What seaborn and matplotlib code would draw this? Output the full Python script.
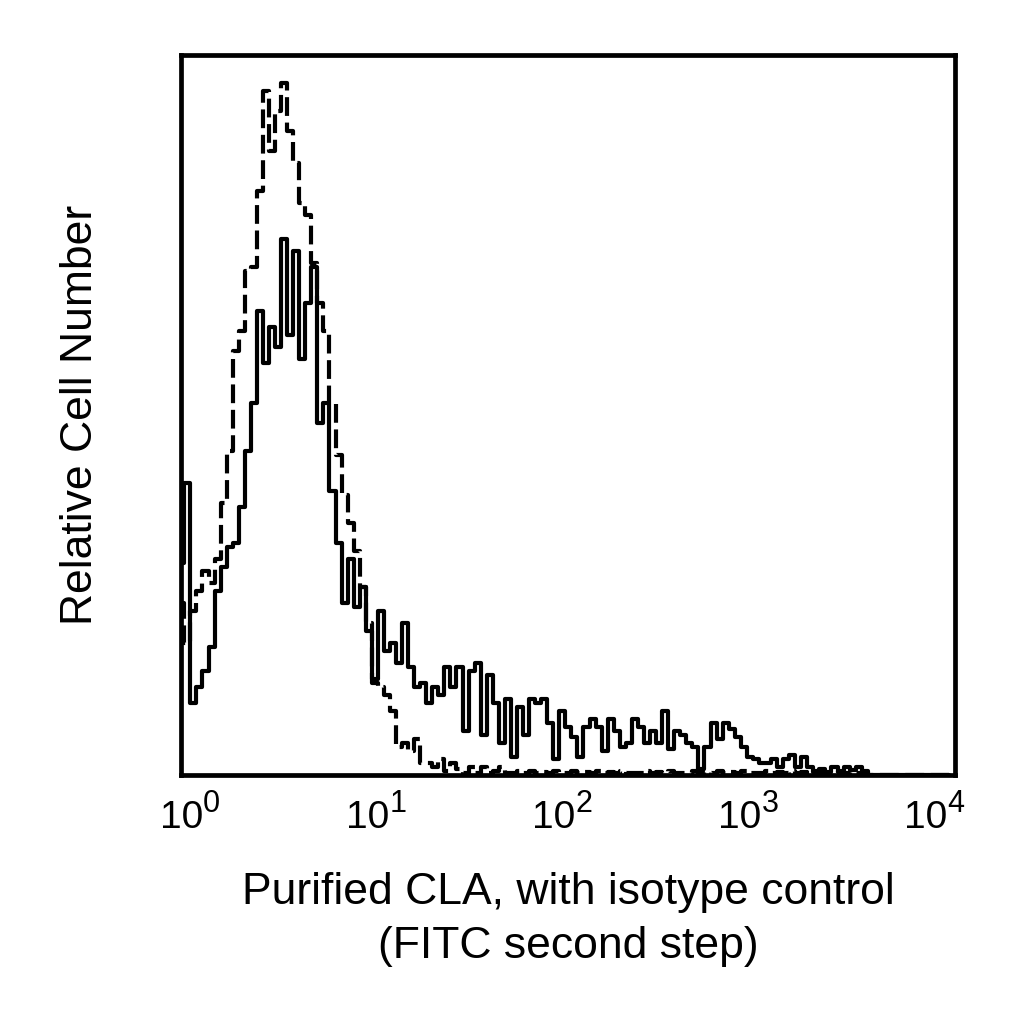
import numpy as np
import pandas as pd
import matplotlib
matplotlib.use("Agg")
import matplotlib.pyplot as plt
import matplotlib.transforms as mtransforms
import seaborn as sns

# ---- data: 128-channel histogram, full scale = 4.16 decades starting at 10^0 ----
n_channels = 128
full_scale_decades = 4.16

cla_counts = [
    53, 73, 18, 22, 26, 32, 46, 52, 57, 58,
    67, 81, 93, 116, 103, 112, 107, 134, 110, 131,
    104, 118, 127, 88, 93, 71, 58, 43, 54, 42,
    47, 36, 24, 41, 31, 33, 28, 38, 27, 22,
    23, 18, 22, 20, 27, 22, 27, 11, 26, 28,
    10, 25, 18, 8, 19, 4.5, 17, 10, 19, 18,
    19, 13, 4, 16, 12, 9.5, 4.5, 12, 14, 12,
    6, 14, 11, 7, 8, 14, 12, 8, 11, 8,
    16, 6.5, 11, 10, 8, 7, 1.5, 7, 13, 9,
    13, 11.5, 9.5, 7, 4.5, 4, 3, 3, 4, 2,
    4, 5, 2, 4.5, 2, 0.8, 1.5, 0.8, 2, 0.8,
    2, 1.2, 2, 1, 0, 0, 0, 0, 0, 0,
    0, 0, 0, 0, 0, 0, 0, 0,
]

isotype_counts = [
    43, 33, 41, 46, 51, 48, 54, 68, 81, 106,
    111, 126, 127, 146, 171, 156, 166, 173, 161, 153,
    143, 140, 128, 118, 111, 93, 80, 70, 63, 56,
    47, 38, 23, 22, 20, 16, 7, 8, 6, 9,
    3, 3, 2, 4, 1, 3, 1.5, 0.5, 2, 0.5,
    2, 0.5, 1, 2, 0.5, 0.5, 1, 0.5, 1, 0.5,
    0.8, 0.5, 1, 0.5, 0.6, 1, 0.5, 0.8, 0.5, 1,
    0.5, 0.7, 0.5, 1, 0.5, 0.6, 0.5, 1, 0.5, 0.8,
    0.5, 1, 0.5, 0.6, 0.5, 1, 0.5, 0.7, 0.5, 1,
    0.5, 0.8, 0.5, 1, 0.5, 0.6, 0.5, 1, 0.5, 0.7,
    0.5, 1, 0.5, 0.8, 0.5, 1, 0.5, 0.6, 0.5, 1,
    0.5, 0.7, 0.5, 0.5, 0, 0, 0, 0, 0, 0,
    0, 0, 0, 0, 0, 0, 0, 0,
]

tick_values = [1, 10, 100, 1000, 10000]
tick_exponents = ["0", "1", "2", "3", "4"]

x_label = "Purified CLA, with isotype control\n(FITC second step)"
y_label = "Relative Cell Number"

# ---- build frames ----
step = full_scale_decades / n_channels
chan = np.arange(len(cla_counts))
df_cla = pd.DataFrame({"fluor": 10 ** (chan * step), "count": cla_counts})
chan_i = np.arange(len(isotype_counts))
df_iso = pd.DataFrame({"fluor": 10 ** (chan_i * step), "count": isotype_counts})

sns.set_style("white")
plt.rcParams['font.family'] = ['Liberation Sans', 'DejaVu Sans']
plt.rcParams['text.color'] = 'black'
plt.rcParams['axes.labelcolor'] = 'black'
plt.rcParams['xtick.color'] = 'black'

fig = plt.figure(figsize=(10.24, 10.24), dpi=100)
ax = fig.add_axes([0.177, 0.243, 0.756, 0.703])

sns.lineplot(data=df_iso, x="fluor", y="count", ax=ax, color="black", linewidth=3.0,
             linestyle=(0, (4.5, 1.6)), drawstyle="steps-mid")
sns.lineplot(data=df_cla, x="fluor", y="count", ax=ax, color="black", linewidth=3.0,
             drawstyle="steps-mid")

ax.set_xscale("log")
ax.set_xlim(1, 10 ** full_scale_decades)
ax.set_ylim(0, 180)
ax.set_xticks(tick_values)
ax.set_xticklabels([])
ax.xaxis.set_minor_locator(matplotlib.ticker.NullLocator())
ax.set_yticks([])
ax.tick_params(axis="x", length=0)

# decade labels: "10" centred on the decade, exponent raised to its right
px = 72 / 100  # points per pixel
base_tr = mtransforms.offset_copy(ax.get_xaxis_transform(), fig=fig,
                                  x=0, y=-53 * px, units="points")
exp_tr = mtransforms.offset_copy(ax.get_xaxis_transform(), fig=fig,
                                 x=22 * px, y=-37 * px, units="points")
for tv, ex in zip(tick_values, tick_exponents):
    ax.text(tv, 0, "10", transform=base_tr, fontsize=28, ha="center", va="baseline")
    ax.text(tv, 0, ex, transform=exp_tr, fontsize=22, ha="left", va="baseline")

ax.set_xlabel(x_label, fontsize=32, labelpad=66, linespacing=1.42)
ax.set_ylabel(y_label, fontsize=32, labelpad=58)

for sp in ax.spines.values():
    sp.set_visible(True)
    sp.set_color("black")
    sp.set_linewidth(3.4)

fig.savefig("out.png", dpi=100, facecolor="white")
